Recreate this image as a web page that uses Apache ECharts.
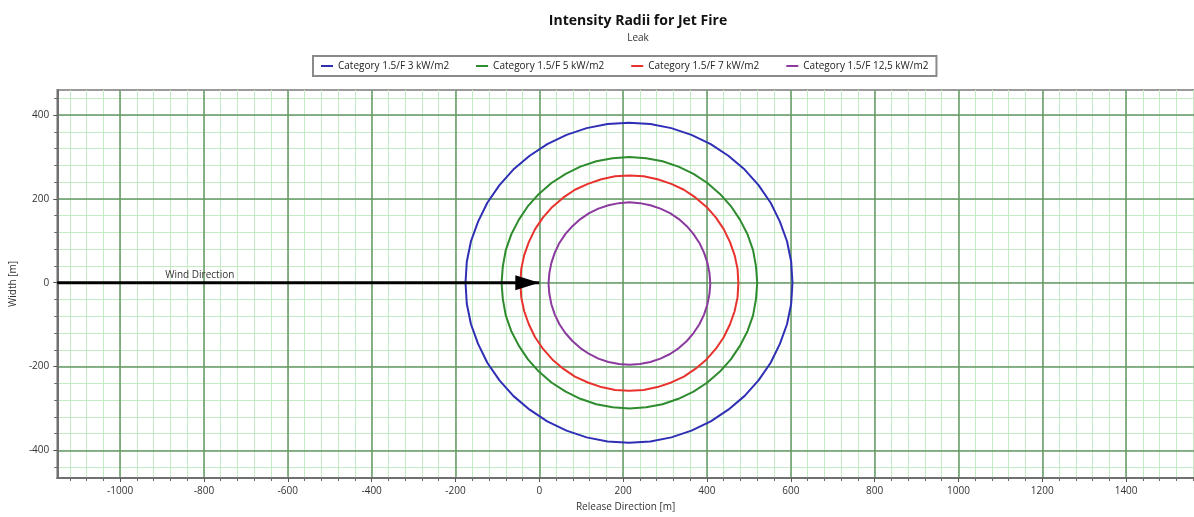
<!DOCTYPE html>
<html><head><meta charset="utf-8">
<script src="https://cdn.jsdelivr.net/npm/echarts@6/dist/echarts.min.js"></script>
<style>html,body{margin:0;padding:0;background:#fff}#c{width:1194px;height:517px}</style>
</head><body><div id="c"></div>
<script>
// ---- data ----
const seriesNames = ['Category 1.5/F 3 kW/m2', 'Category 1.5/F 5 kW/m2', 'Category 1.5/F 7 kW/m2', 'Category 1.5/F 12,5 kW/m2'];
const ring3kW = [[604,0],[601,50],[591,99],[574,146],[552,191],[523,233],[490,270],[451,303],[409,331],[363,353],[315,369],[265,379],[214,382],
  [163,379],[113,369],[65,353],[19,331],[-23,303],[-62,270],[-95,233],[-124,191],[-146,146],[-163,99],[-173,50],[-176,0],
  [-173,-50],[-163,-99],[-146,-146],[-124,-191],[-95,-233],[-62,-270],[-23,-303],[19,-331],[65,-353],[113,-369],[163,-379],[214,-382],
  [265,-379],[315,-369],[363,-353],[409,-331],[451,-303],[490,-270],[523,-233],[552,-191],[574,-146],[591,-99],[601,-50],[604,0]];
const ring5kW = [[520,0],[517,39],[510,78],[497,115],[479,150],[457,183],[431,212],[401,238],[368,260],[332,277],[294,290],[255,297],[215,300],
  [175,297],[136,290],[98,277],[63,260],[29,238],[-1,212],[-27,183],[-49,150],[-67,115],[-80,78],[-87,39],[-90,0],
  [-87,-39],[-80,-78],[-67,-115],[-49,-150],[-27,-183],[-1,-212],[29,-238],[63,-260],[98,-277],[136,-290],[175,-297],[215,-300],
  [255,-297],[294,-290],[332,-277],[368,-260],[401,-238],[431,-212],[457,-183],[479,-150],[497,-115],[510,-78],[517,-39],[520,0]];
const ring7kW = [[475,-1],[473,33],[466,66],[455,97],[440,128],[421,156],[399,181],[373,203],[345,222],[315,236],[282,247],[249,254],[215,256],
  [181,254],[148,247],[116,236],[85,222],[57,203],[31,181],[9,156],[-10,128],[-25,97],[-36,66],[-43,33],[-45,-1],
  [-43,-35],[-36,-68],[-25,-99],[-10,-130],[9,-158],[31,-183],[57,-205],[85,-224],[116,-238],[148,-249],[181,-256],[215,-258],
  [249,-256],[282,-249],[315,-238],[345,-224],[373,-205],[399,-183],[421,-158],[440,-130],[455,-99],[466,-68],[473,-35],[475,-1]];
const ring125kW = [[408,-2],[406,23],[401,48],[393,72],[382,95],[368,116],[352,135],[333,152],[312,166],[289,177],[265,185],[240,190],[215,192],
  [190,190],[165,185],[141,177],[119,166],[98,152],[79,135],[62,116],[48,95],[37,72],[29,48],[24,23],[22,-2],
  [24,-27],[29,-52],[37,-76],[48,-99],[62,-120],[79,-139],[98,-156],[119,-170],[141,-181],[165,-189],[190,-194],[215,-196],
  [240,-194],[265,-189],[289,-181],[312,-170],[333,-156],[352,-139],[368,-120],[382,-99],[393,-76],[401,-52],[406,-27],[408,-2]];
const windLine = [[-1150,0],[0,0]];
const windLabel = 'Wind Direction';
const windLabelPos = [-810, 0];
const xMajorTicks = [-1000,-800,-600,-400,-200,0,200,400,600,800,1000,1200,1400];
const yMajorTicks = [-400,-200,0,200,400];
const minorStep = 40;
const xRange = [-1150, 1562];
const yRange = [-466, 460];

// ---- styles ----
const ringColors = ['#2f2fb5', '#2e8b2e', '#e8322e', '#8b3a9e'];
const font = '"Open Sans", "Noto Sans", sans-serif';
const majorGrid = '#669966';
const minorGrid = '#c4ecc4';

function minorTicks(r) {
  const out = [];
  for (let v = Math.ceil(r[0] / minorStep) * minorStep; v <= r[1]; v += minorStep) out.push(v);
  return out;
}
const plain = v => String(v);

const chart = echarts.init(document.getElementById('c'), null, {renderer: 'canvas'});
const rings = [ring3kW, ring5kW, ring7kW, ring125kW];

const option = {
  animation: false,
  backgroundColor: '#fff',
  textStyle: {fontFamily: font},
  title: {
    text: 'Intensity Radii for Jet Fire',
    subtext: 'Leak',
    left: 633, top: 9, textAlign: 'center', itemGap: 5,
    textStyle: {fontFamily: font, fontSize: 14, fontWeight: 'bold', color: '#111'},
    subtextStyle: {fontFamily: font, fontSize: 10, color: '#333'}
  },
  legend: {
    data: seriesNames,
    left: 313, top: 56,
    padding: [5, 8], itemGap: 27,
    icon: 'rect', itemWidth: 12, itemHeight: 2,
    borderColor: '#8a8a8a', borderWidth: 2,
    textStyle: {fontFamily: font, fontSize: 10, color: '#222'}
  },
  grid: {left: 54, right: -2, top: 90, bottom: 36, show: true, borderColor: '#9a9a9a', borderWidth: 2, backgroundColor: '#fff'},
  xAxis: [
    {
      type: 'value', position: 'bottom', min: xRange[0], max: xRange[1], z: 1,
      name: 'Release Direction [m]', nameLocation: 'middle', nameGap: 24,
      nameTextStyle: {fontFamily: font, fontSize: 10, color: '#333'},
      axisLine: {show: true, onZero: false, lineStyle: {color: '#707070', width: 2}},
      axisTick: {show: true, length: 4, customValues: xMajorTicks, lineStyle: {color: '#555'}},
      axisLabel: {customValues: xMajorTicks, formatter: plain, fontSize: 10, color: '#333', margin: 8, fontFamily: font},
      splitLine: {show: true, lineStyle: {color: majorGrid, width: 1.5}}
    },
    {
      type: 'value', position: 'bottom', min: xRange[0], max: xRange[1], z: 0,
      axisLine: {show: false, onZero: false},
      axisTick: {show: true, length: 3, customValues: minorTicks(xRange), lineStyle: {color: '#666'}},
      axisLabel: {show: false},
      splitLine: {show: true, lineStyle: {color: minorGrid, width: 1}}
    }
  ],
  yAxis: [
    {
      type: 'value', position: 'left', min: yRange[0], max: yRange[1], z: 1,
      name: 'Width [m]', nameLocation: 'middle', nameGap: 36,
      nameTextStyle: {fontFamily: font, fontSize: 10, color: '#333'},
      axisLine: {show: true, onZero: false, lineStyle: {color: '#707070', width: 2}},
      axisTick: {show: true, length: 4, customValues: yMajorTicks, lineStyle: {color: '#555'}},
      axisLabel: {customValues: yMajorTicks, formatter: plain, fontSize: 10, color: '#333', margin: 8, fontFamily: font},
      splitLine: {show: true, lineStyle: {color: majorGrid, width: 1.5}}
    },
    {
      type: 'value', position: 'left', min: yRange[0], max: yRange[1], z: 0,
      axisLine: {show: false, onZero: false},
      axisTick: {show: true, length: 3, customValues: minorTicks(yRange), lineStyle: {color: '#666'}},
      axisLabel: {show: false},
      splitLine: {show: true, lineStyle: {color: minorGrid, width: 1}}
    }
  ],
  series: rings.map((d, i) => ({
    name: seriesNames[i], type: 'line', data: d,
    xAxisIndex: 0, yAxisIndex: 0,
    showSymbol: false, symbol: 'none', smooth: false,
    lineStyle: {color: ringColors[i], width: 2, join: 'round'},
    itemStyle: {color: ringColors[i]},
    z: 3
  })).concat([{
    name: 'wind', type: 'line', xAxisIndex: 0, yAxisIndex: 0, z: 4,
    data: [
      {value: windLine[0], symbol: 'none'},
      {value: windLine[1], symbol: 'path://M0,0 L24,7.5 L0,15 Z', symbolSize: [24, 15], symbolOffset: [-12, 0], itemStyle: {color: '#000'}}
    ],
    showSymbol: true,
    lineStyle: {color: '#000', width: 3},
    itemStyle: {color: '#000'},
    markPoint: {
      symbol: 'circle', symbolSize: 0,
      label: {show: true, position: 'top', distance: 3, formatter: windLabel, fontFamily: font, fontSize: 10, color: '#333'},
      data: [{coord: windLabelPos}]
    }
  }])
};
chart.setOption(option);
</script>
</body></html>
